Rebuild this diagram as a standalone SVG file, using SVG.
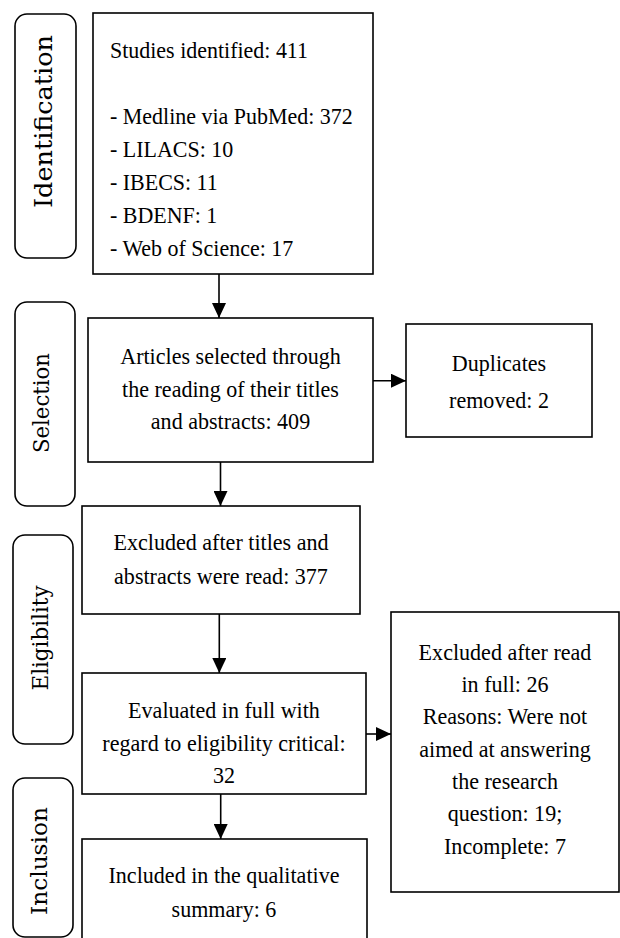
<svg xmlns="http://www.w3.org/2000/svg" width="620" height="938" viewBox="0 0 620 938">
<style>
  .box { fill: #fff; stroke: #000; stroke-width: 1.6; }
  .lab { fill: #fff; stroke: #000; stroke-width: 1.6; }
  .t { font-family: "Liberation Serif", "Times New Roman", serif; font-size: 24px; fill: #000; }
  .c { text-anchor: middle; }
  .side { font-family: "DejaVu Serif", serif; font-size: 22px; fill: #000; text-anchor: middle; }
  .conn { stroke: #000; stroke-width: 1.6; fill: none; marker-end: url(#ah); }
</style>
<defs>
  <marker id="ah" markerUnits="userSpaceOnUse" markerWidth="15" markerHeight="14" refX="15" refY="7" orient="auto">
    <path d="M0,0 L15,7 L0,14 Z" fill="#000"/>
  </marker>
</defs>
<rect width="620" height="938" fill="#fff"/>

<g id="label-identification">
  <rect class="lab" x="15" y="14" width="61" height="244" rx="12"/>
  <text class="side" style="font-size:24px" transform="translate(52,121.5) rotate(-90)" textLength="173" lengthAdjust="spacingAndGlyphs">Identification</text>
</g>
<g id="label-selection">
  <rect class="lab" x="15" y="302" width="60" height="204" rx="12"/>
  <text class="side" transform="translate(49.3,403) rotate(-90)" textLength="100" lengthAdjust="spacingAndGlyphs">Selection</text>
</g>
<g id="label-eligibility">
  <rect class="lab" x="13" y="535" width="60" height="209" rx="12"/>
  <text class="side" transform="translate(47.7,638) rotate(-90)" textLength="105" lengthAdjust="spacingAndGlyphs">Eligibility</text>
</g>
<g id="label-inclusion">
  <rect class="lab" x="13" y="778" width="60" height="159" rx="12"/>
  <text class="side" transform="translate(47,861) rotate(-90)" textLength="108" lengthAdjust="spacingAndGlyphs">Inclusion</text>
</g>

<g id="node-identified">
  <rect class="box" x="93" y="13" width="280" height="261"/>
  <g transform="translate(110,0) scale(0.915,1) translate(-110,0)">
    <text class="t" x="110" y="58">Studies identified: 411</text>
    <text class="t" x="110" y="124">- Medline via PubMed: 372</text>
    <text class="t" x="110" y="157">- LILACS: 10</text>
    <text class="t" x="110" y="190">- IBECS: 11</text>
    <text class="t" x="110" y="223">- BDENF: 1</text>
    <text class="t" x="110" y="256">- Web of Science: 17</text>
  </g>
</g>

<g id="node-selected">
  <rect class="box" x="88" y="318" width="285" height="144"/>
  <g transform="translate(230.5,0) scale(0.92,1) translate(-230.5,0)">
    <text class="t c" x="230.5" y="364">Articles selected through</text>
    <text class="t c" x="230.5" y="397">the reading of their titles</text>
    <text class="t c" x="230.5" y="429">and abstracts: 409</text>
  </g>
</g>

<g id="node-duplicates">
  <rect class="box" x="406" y="324" width="186" height="113"/>
  <g transform="translate(499,0) scale(0.92,1) translate(-499,0)">
    <text class="t c" x="499" y="371">Duplicates</text>
    <text class="t c" x="499" y="408">removed: 2</text>
  </g>
</g>

<g id="node-excluded-titles">
  <rect class="box" x="82" y="506" width="278" height="108"/>
  <g transform="translate(221,0) scale(0.92,1) translate(-221,0)">
    <text class="t c" x="221" y="550">Excluded after titles and</text>
    <text class="t c" x="221" y="584">abstracts were read: 377</text>
  </g>
</g>

<g id="node-evaluated">
  <rect class="box" x="82" y="673" width="284" height="121"/>
  <g transform="translate(224,0) scale(0.92,1) translate(-224,0)">
    <text class="t c" x="224" y="718">Evaluated in full with</text>
    <text class="t c" x="224" y="751">regard to eligibility critical:</text>
    <text class="t c" x="224" y="783">32</text>
  </g>
</g>

<g id="node-excluded-full">
  <rect class="box" x="391" y="612" width="228" height="280"/>
  <g transform="translate(505,0) scale(0.92,1) translate(-505,0)">
    <text class="t c" x="505" y="660">Excluded after read</text>
    <text class="t c" x="505" y="692">in full: 26</text>
    <text class="t c" x="505" y="724">Reasons: Were not</text>
    <text class="t c" x="505" y="757">aimed at answering</text>
    <text class="t c" x="505" y="789">the research</text>
    <text class="t c" x="505" y="821">question: 19;</text>
    <text class="t c" x="505" y="854">Incomplete: 7</text>
  </g>
</g>

<g id="node-included">
  <rect class="box" x="82" y="839" width="285" height="110"/>
  <g transform="translate(224,0) scale(0.92,1) translate(-224,0)">
    <text class="t c" x="224" y="883">Included in the qualitative</text>
    <text class="t c" x="224" y="917">summary: 6</text>
  </g>
</g>

<g id="connectors">
  <line class="conn" x1="219" y1="274" x2="219" y2="318"/>
  <line class="conn" x1="220.5" y1="462" x2="220.5" y2="506"/>
  <line class="conn" x1="373" y1="380.7" x2="406" y2="380.7"/>
  <line class="conn" x1="219.3" y1="614" x2="219.3" y2="673"/>
  <line class="conn" x1="366" y1="734" x2="391" y2="734"/>
  <line class="conn" x1="220.7" y1="794" x2="220.7" y2="839"/>
</g>
</svg>
